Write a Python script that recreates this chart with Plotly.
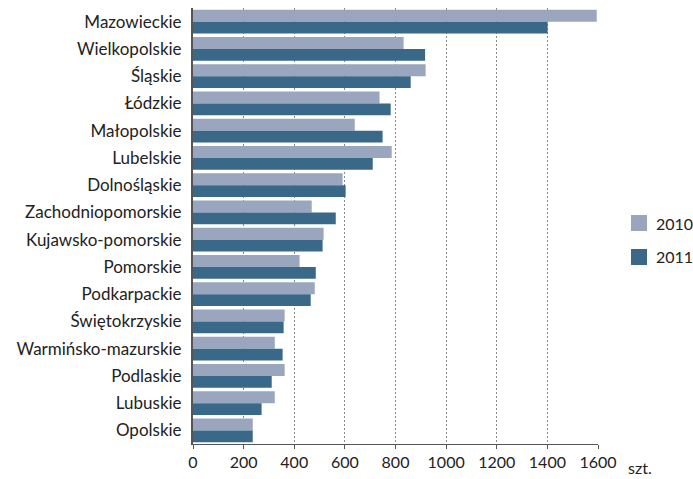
import plotly.graph_objects as go

regions = ["Mazowieckie", "Wielkopolskie", "Śląskie", "Łódzkie", "Małopolskie", "Lubelskie",
           "Dolnośląskie", "Zachodniopomorskie", "Kujawsko-pomorskie", "Pomorskie",
           "Podkarpackie", "Świętokrzyskie", "Warmińsko-mazurskie", "Podlaskie",
           "Lubuskie", "Opolskie"]
values_2010 = [1595, 832, 919, 737, 639, 785, 591, 469, 516, 421, 481, 362, 323, 362, 323, 236]
values_2011 = [1401, 917, 860, 781, 749, 710, 603, 564, 512, 485, 465, 358, 354, 311, 271, 236]
x_ticks = [0, 200, 400, 600, 800, 1000, 1200, 1400, 1600]
series_names = ["2010", "2011"]
series_colors = ["#9AA6BE", "#3A6889"]

FONT = "Lato"
fig = go.Figure()
for name, vals, col in zip(series_names, [values_2010, values_2011], series_colors):
    fig.add_trace(go.Bar(y=regions, x=vals, name=name, orientation="h",
                         marker=dict(color=col, line=dict(width=0))))

fig.update_layout(
    width=693, height=479,
    margin=dict(l=193, r=95, t=8, b=35, autoexpand=False),
    paper_bgcolor="white", plot_bgcolor="white",
    barmode="group", bargap=0.12, bargroupgap=0,
    font=dict(family=FONT, size=17, color="#222222"),
    showlegend=False,
    xaxis=dict(range=[0, 1600], tickvals=x_ticks, ticktext=[str(v) for v in x_ticks],
               showgrid=True, gridcolor="#8a8a8a", griddash="1.5px,2.5px", gridwidth=1,
               showline=True, linecolor="#555555", linewidth=1.2,
               ticks="outside", ticklen=4, tickcolor="#555555",
               tickfont=dict(size=16), zeroline=False),
    yaxis=dict(autorange="reversed", showline=True, linecolor="#555555", linewidth=2,
               ticks="", ticklabelstandoff=6, tickfont=dict(size=17), showgrid=False),
)

# legend drawn as swatches + text
legend_boxes = [(0.5252, 0.4885), (0.4472, 0.4106)]
for name, col, (y0, y1) in zip(series_names, series_colors, legend_boxes):
    fig.add_shape(type="rect", xref="paper", yref="paper", x0=1.0815, x1=1.121,
                  y0=y1, y1=y0, fillcolor=col, line=dict(width=0))
    fig.add_annotation(text=name, xref="paper", yref="paper", x=1.139, y=(y0 + y1) / 2,
                       xanchor="left", yanchor="middle", showarrow=False,
                       font=dict(size=16, color="#222222"))

fig.add_annotation(text="szt.", xref="paper", yref="paper", x=1.07, y=-0.053,
                   xanchor="left", yanchor="middle", showarrow=False,
                   font=dict(size=16, color="#222222"))

fig.write_html("out.html",
               config={"displayModeBar": False},
               post_script="document.body.style.margin='0';document.body.style.overflow='hidden';")
